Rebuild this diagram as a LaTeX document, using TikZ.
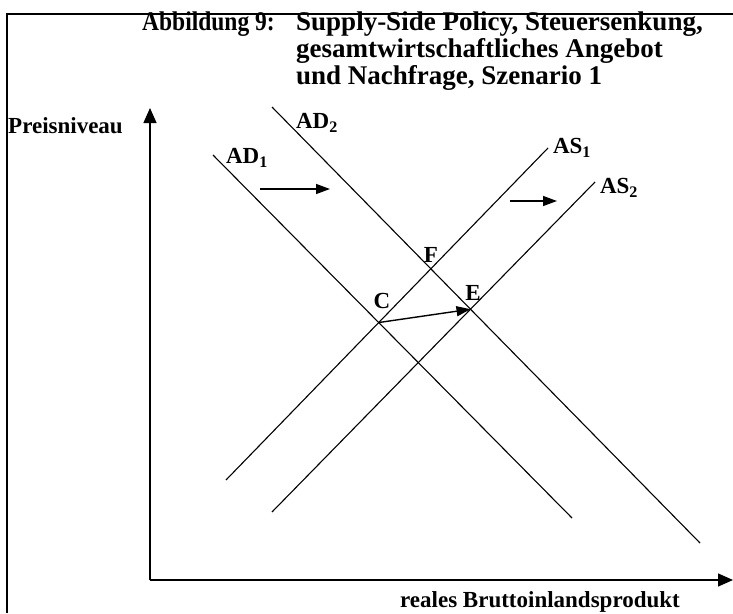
\documentclass[tikz,border=0pt]{standalone}
\usepackage{fontspec}
\usepackage{graphicx}
\setmainfont{Liberation Serif}
\usetikzlibrary{arrows.meta}
\begin{document}
\begin{tikzpicture}[x=1pt,y=-1pt,
    curve/.style={line width=1.1pt},
    shiftarrow/.style={line width=1.4pt,-{Triangle[length=14pt,width=10pt]}},
    lbl/.style={font=\fontsize{23}{25}\selectfont\bfseries,inner sep=0pt},
    ttl/.style={font=\fontsize{27}{27}\selectfont\bfseries,inner sep=0pt,anchor=base west}]
    \useasboundingbox (0,0) rectangle (733,613);
    % frame
    \draw[line width=2pt] (7,613) -- (7,14) -- (733,14);
    % title
    \node[ttl] (titlea) at (142,30) {\scalebox{0.87}[1]{Abbildung 9:}};
    \node[ttl,align=left] (titleb) at (296,84)
        {Supply-Side Policy, Steuersenkung,\\gesamtwirtschaftliches Angebot\\und Nachfrage, Szenario 1};
    % axes
    \coordinate (O) at (150,580);
    \coordinate (ytop) at (150,108);
    \coordinate (xend) at (733,580);
    \draw[line width=1.4pt,-{Triangle[length=15pt,width=13pt]}] (O) -- (ytop);
    \draw[line width=1.4pt,-{Triangle[length=15pt,width=13pt]}] (O) -- (xend);
    \node[lbl,anchor=west] (py) at (8,126) {Preisniveau};
    \node[lbl] (bip) at (540,602) {reales Bruttoinlandsprodukt};
    % curves
    \coordinate (ad1a) at (213,155);
    \coordinate (ad1b) at (572,518);
    \coordinate (ad2a) at (272,107);
    \coordinate (ad2b) at (700,543);
    \coordinate (as1a) at (226,480);
    \coordinate (as1b) at (548,148);
    \coordinate (as2a) at (272,512);
    \coordinate (as2b) at (595,182);
    \draw[curve] (ad1a) -- (ad1b);
    \draw[curve] (ad2a) -- (ad2b);
    \draw[curve] (as1a) -- (as1b);
    \draw[curve] (as2a) -- (as2b);
    \node[lbl] (ad1) at (247,158) {AD\textsubscript{1}};
    \node[lbl] (ad2) at (317,123) {AD\textsubscript{2}};
    \node[lbl] (as1) at (572,148) {AS\textsubscript{1}};
    \node[lbl] (as2) at (619,188) {AS\textsubscript{2}};
    % equilibria
    \coordinate (C) at (intersection of ad1a--ad1b and as1a--as1b);
    \coordinate (E) at (intersection of ad2a--ad2b and as2a--as2b);
    \coordinate (F) at (intersection of ad2a--ad2b and as1a--as1b);
    \node[lbl] (lc) at (382,301) {C};
    \node[lbl] (le) at (473,293) {E};
    \node[lbl] (lf) at (431,255) {F};
    \draw[shiftarrow] (C) -- (E);
    % shifts
    \coordinate (s1a) at (260,189);
    \coordinate (s1b) at (330,189);
    \coordinate (s2a) at (510,201);
    \coordinate (s2b) at (557,201);
    \draw[shiftarrow] (s1a) -- (s1b);
    \draw[shiftarrow] (s2a) -- (s2b);
\end{tikzpicture}
\end{document}
